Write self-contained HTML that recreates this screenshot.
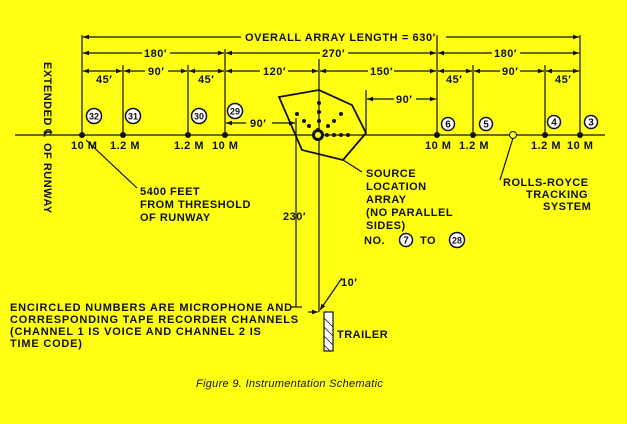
<!DOCTYPE html>
<html><head><style>
html,body{margin:0;padding:0;background:#ffff14;}
svg{display:block}
text{font-family:"Liberation Sans",sans-serif;font-weight:bold;font-size:11px;fill:#111;letter-spacing:0.5px}
</style></head><body>
<svg width="627" height="424" viewBox="0 0 627 424" xmlns="http://www.w3.org/2000/svg">
<defs>
<marker id="a" viewBox="0 0 10 10" refX="10" refY="5" markerWidth="6" markerHeight="5" orient="auto-start-reverse"><path d="M0,1 L10,5 L0,9 Z" fill="#111"/></marker>
</defs>
<rect width="627" height="424" fill="#ffff14"/>
<g stroke="#111" stroke-width="1.2" fill="none">
<line x1="15" y1="135" x2="605" y2="135"/>
<line x1="82" y1="35" x2="82" y2="135"/>
<line x1="123" y1="65" x2="123" y2="135"/>
<line x1="188" y1="65" x2="188" y2="135"/>
<line x1="225" y1="49" x2="225" y2="135"/>
<line x1="437" y1="35" x2="437" y2="135"/>
<line x1="473" y1="65" x2="473" y2="135"/>
<line x1="545" y1="65" x2="545" y2="135"/>
<line x1="580" y1="35" x2="580" y2="135"/>
<line x1="319" y1="59" x2="319" y2="312"/>
<line x1="296" y1="118" x2="296" y2="307"/>
<line x1="366" y1="90" x2="366" y2="132"/>
<line x1="83" y1="37" x2="241" y2="37" marker-start="url(#a)"/>
<line x1="446" y1="37" x2="579" y2="37" marker-end="url(#a)"/>
<line x1="83" y1="53" x2="142" y2="53" marker-start="url(#a)"/>
<line x1="170" y1="53" x2="224" y2="53" marker-end="url(#a)"/>
<line x1="226" y1="53" x2="320" y2="53" marker-start="url(#a)"/>
<line x1="348" y1="53" x2="436" y2="53" marker-end="url(#a)"/>
<line x1="438" y1="53" x2="492" y2="53" marker-start="url(#a)"/>
<line x1="520" y1="53" x2="579" y2="53" marker-end="url(#a)"/>
<line x1="83" y1="71" x2="122" y2="71" marker-start="url(#a)" marker-end="url(#a)"/>
<line x1="124" y1="71" x2="145" y2="71" marker-start="url(#a)"/>
<line x1="168" y1="71" x2="187" y2="71" marker-end="url(#a)"/>
<line x1="189" y1="71" x2="224" y2="71" marker-start="url(#a)" marker-end="url(#a)"/>
<line x1="226" y1="71" x2="260" y2="71" marker-start="url(#a)"/>
<line x1="288" y1="71" x2="318" y2="71" marker-end="url(#a)"/>
<line x1="320" y1="71" x2="368" y2="71" marker-start="url(#a)"/>
<line x1="394" y1="71" x2="436" y2="71" marker-end="url(#a)"/>
<line x1="438" y1="71" x2="472" y2="71" marker-start="url(#a)" marker-end="url(#a)"/>
<line x1="474" y1="71" x2="500" y2="71" marker-start="url(#a)"/>
<line x1="520" y1="71" x2="544" y2="71" marker-end="url(#a)"/>
<line x1="546" y1="71" x2="579" y2="71" marker-start="url(#a)" marker-end="url(#a)"/>
<line x1="367" y1="99" x2="394" y2="99" marker-start="url(#a)"/>
<line x1="416" y1="99" x2="436" y2="99" marker-end="url(#a)"/>
<line x1="226" y1="123" x2="246" y2="123" marker-start="url(#a)"/>
<line x1="272" y1="123" x2="295" y2="123" marker-end="url(#a)"/>
<polygon points="279,97 319,90 352,105 366,133 343,160 302,150" stroke-width="1.8"/>
<line x1="343" y1="160" x2="362" y2="172"/>
<line x1="86" y1="140" x2="137" y2="188"/>
<line x1="513" y1="138" x2="500" y2="180"/>
<line x1="342" y1="278" x2="320" y2="310" marker-end="url(#a)"/>
<line x1="308" y1="312" x2="318" y2="312" marker-end="url(#a)"/>
<line x1="290" y1="307" x2="302" y2="307"/>
</g>
<g fill="#111">
<circle cx="82" cy="135" r="3"/><circle cx="123" cy="135" r="3"/><circle cx="188" cy="135" r="3"/><circle cx="225" cy="135" r="3"/>
<circle cx="437" cy="135" r="3"/><circle cx="473" cy="135" r="3"/><circle cx="545" cy="135" r="3"/><circle cx="580" cy="135" r="3"/>
<circle cx="319" cy="103" r="2"/><circle cx="319" cy="112" r="2"/><circle cx="319" cy="121" r="2"/><circle cx="318" cy="130" r="2"/>
<circle cx="297" cy="114" r="2"/><circle cx="304" cy="121" r="2"/><circle cx="309" cy="126" r="2"/>
<circle cx="341" cy="114" r="2"/><circle cx="334" cy="121" r="2"/><circle cx="328" cy="126" r="2"/>
<circle cx="327" cy="135" r="2"/><circle cx="334" cy="135" r="2"/><circle cx="341" cy="135" r="2"/><circle cx="348" cy="135" r="2"/>
<circle cx="318" cy="135" r="6"/>
</g>
<circle cx="318" cy="135" r="3" fill="#ffff14"/>
<circle cx="513" cy="135" r="3.5" fill="#ffff14" stroke="#111" stroke-width="1"/>
<rect x="324" y="312" width="9" height="39" fill="#fff" stroke="#111" stroke-width="1.2"/>
<g stroke="#111" stroke-width="0.8"><line x1="324" y1="318" x2="333" y2="327"/><line x1="324" y1="327" x2="333" y2="336"/><line x1="324" y1="336" x2="333" y2="345"/><line x1="324" y1="345" x2="330" y2="351"/></g>
<g fill="#fff" stroke="#111" stroke-width="1.5">
<circle cx="94" cy="116" r="7.5"/><circle cx="133" cy="116" r="7.5"/><circle cx="199" cy="116" r="7.5"/><circle cx="235" cy="111" r="7.5"/>
<circle cx="448" cy="124" r="6.5"/><circle cx="486" cy="124" r="6.5"/><circle cx="554" cy="122" r="6.5"/><circle cx="591" cy="122" r="6.5"/>
<circle cx="406" cy="240" r="6.5"/><circle cx="457" cy="240" r="7.5"/>
</g>
<g text-anchor="middle">
<text x="94" y="119.5" style="font-size:9px;letter-spacing:0">32</text><text x="133" y="119.5" style="font-size:9px;letter-spacing:0">31</text><text x="199" y="119.5" style="font-size:9px;letter-spacing:0">30</text><text x="235" y="114.5" style="font-size:9px;letter-spacing:0">29</text>
<text x="448" y="127.5" style="font-size:10px;letter-spacing:0">6</text><text x="486" y="127.5" style="font-size:10px;letter-spacing:0">5</text><text x="554" y="125.5" style="font-size:10px;letter-spacing:0">4</text><text x="591" y="125.5" style="font-size:10px;letter-spacing:0">3</text>
<text x="406" y="243.5" style="font-size:10px;letter-spacing:0">7</text><text x="457" y="243.5" style="font-size:9px;letter-spacing:0">28</text>
</g>
<g>
<text x="245" y="41" style="letter-spacing:0.6px">OVERALL ARRAY LENGTH = 630′</text>
<text x="144" y="57">180′</text><text x="322" y="57">270′</text><text x="494" y="57">180′</text>
<text x="148" y="75">90′</text><text x="263" y="75">120′</text><text x="370" y="75">150′</text><text x="502" y="75">90′</text>
<text x="96" y="83">45′</text><text x="198" y="83">45′</text><text x="446" y="83">45′</text><text x="555" y="83">45′</text>
<text x="396" y="103">90′</text><text x="250" y="127">90′</text>
<text x="71" y="149">10 M</text><text x="110" y="149">1.2 M</text><text x="174" y="149">1.2 M</text><text x="212" y="149">10 M</text>
<text x="425" y="149">10 M</text><text x="459" y="149">1.2 M</text><text x="531" y="149">1.2 M</text><text x="567" y="149">10 M</text>
<text x="140" y="195">5400 FEET</text><text x="140" y="208">FROM THRESHOLD</text><text x="140" y="221">OF RUNWAY</text>
<text x="366" y="177">SOURCE</text><text x="366" y="190">LOCATION</text><text x="366" y="203">ARRAY</text><text x="366" y="216">(NO PARALLEL</text><text x="366" y="229">SIDES)</text>
<text x="364" y="244">NO.</text><text x="420" y="244">TO</text>
<text x="503" y="186">ROLLS-ROYCE</text><text x="526" y="198">TRACKING</text><text x="543" y="210">SYSTEM</text>
<text x="283" y="220">230′</text><text x="341" y="286">10′</text>
<text x="10" y="311" style="letter-spacing:0.8px">ENCIRCLED NUMBERS ARE MICROPHONE AND</text>
<text x="10" y="323" style="letter-spacing:0.8px">CORRESPONDING TAPE RECORDER CHANNELS</text>
<text x="10" y="335" style="letter-spacing:0.8px">(CHANNEL 1 IS VOICE AND CHANNEL 2 IS</text>
<text x="10" y="347" style="letter-spacing:0.8px">TIME CODE)</text>
<text x="337" y="338">TRAILER</text>
<text x="196" y="387" style="font-weight:normal;font-style:italic;font-size:11px;letter-spacing:0.3px">Figure 9.  Instrumentation Schematic</text>
<text transform="translate(44,62) rotate(90)">EXTENDED ℄</text>
<text transform="translate(44,143) rotate(90)">OF RUNWAY</text>
</g>
</svg>
</body></html>
